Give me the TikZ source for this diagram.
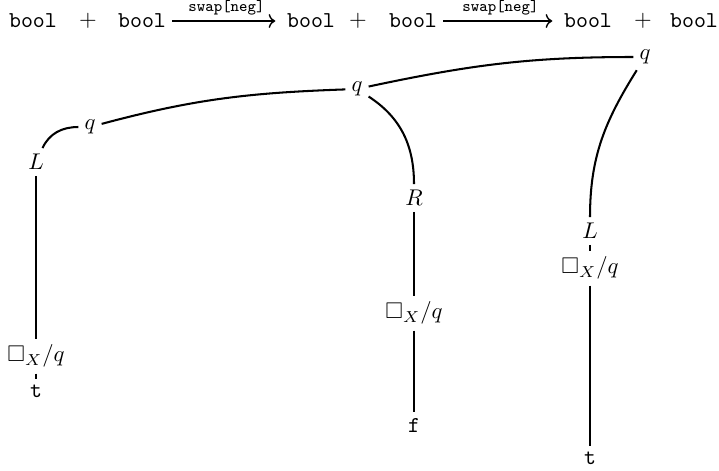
\documentclass[tikz,border=0pt]{standalone}
\usepackage{amsmath,amssymb}
\usetikzlibrary{positioning,arrows.meta}

\begin{document}
\begin{tikzpicture}[
    x=0.44pt, y=-0.44pt,
    lbl/.style={inner sep=2.5pt},
    ty/.style={inner sep=2.5pt, font=\ttfamily},
    br/.style={line width=0.9pt},
    arr/.style={->, line width=0.6pt, shorten >=2.5pt}
]
\useasboundingbox (0,0) rectangle (719,470);

% top line: bool + bool -> bool + bool -> bool + bool
\node[ty] (B1) at (33,21) {bool};
\node (P1) at (88,21) {$+$};
\node[ty] (B2) at (142,21) {bool};
\node[ty] (B3) at (311,21) {bool};
\node (P2) at (358,21) {$+$};
\node[ty] (B4) at (413,21) {bool};
\node[ty] (B5) at (588,21) {bool};
\node (P3) at (643,21) {$+$};
\node[ty] (B6) at (694,21) {bool};

\draw[arr] (B2) -- node[above, font=\scriptsize\ttfamily, inner sep=2.5pt] (S1) {swap[neg]} (B3);
\draw[arr] (B4) -- node[above, font=\scriptsize\ttfamily, inner sep=2.5pt] (S2) {swap[neg]} (B5);

% q nodes
\node[lbl] (Q0) at (645,57) {$q$};
\node[lbl] (Q1) at (357,89) {$q$};
\node[lbl] (Q2) at (90,127) {$q$};

% left branch
\node[lbl] (L1) at (36,162) {$L$};
\node[lbl] (X1) at (36,356) {$\Box_X/q$};
\node[ty] (T1) at (36,391) {t};

% middle branch
\node[lbl] (R1) at (414,198) {$R$};
\node[lbl] (X2) at (414,313) {$\Box_X/q$};
\node[ty] (F1) at (414,425) {f};

% right branch
\node[lbl] (L2) at (590,231) {$L$};
\node[lbl] (X3) at (590,268) {$\Box_X/q$};
\node[ty] (T2) at (590,458) {t};

% curved edges
\draw[br] (Q1) to[out=12, in=180] (Q0);
\draw[br] (Q2) to[out=15, in=182] (Q1);
\draw[br] (Q2) to[out=180, in=65] (L1);
\draw[br] (Q1) to[out=-33, in=90] (R1);
\draw[br] (Q0) to[out=-122, in=90] (L2);

% straight edges
\draw[br] (L1) -- (X1);
\draw[br] (X1) -- (T1);
\draw[br] (R1) -- (X2);
\draw[br] (X2) -- (F1);
\draw[br] (L2) -- (X3);
\draw[br] (X3) -- (T2);

\end{tikzpicture}
\end{document}
